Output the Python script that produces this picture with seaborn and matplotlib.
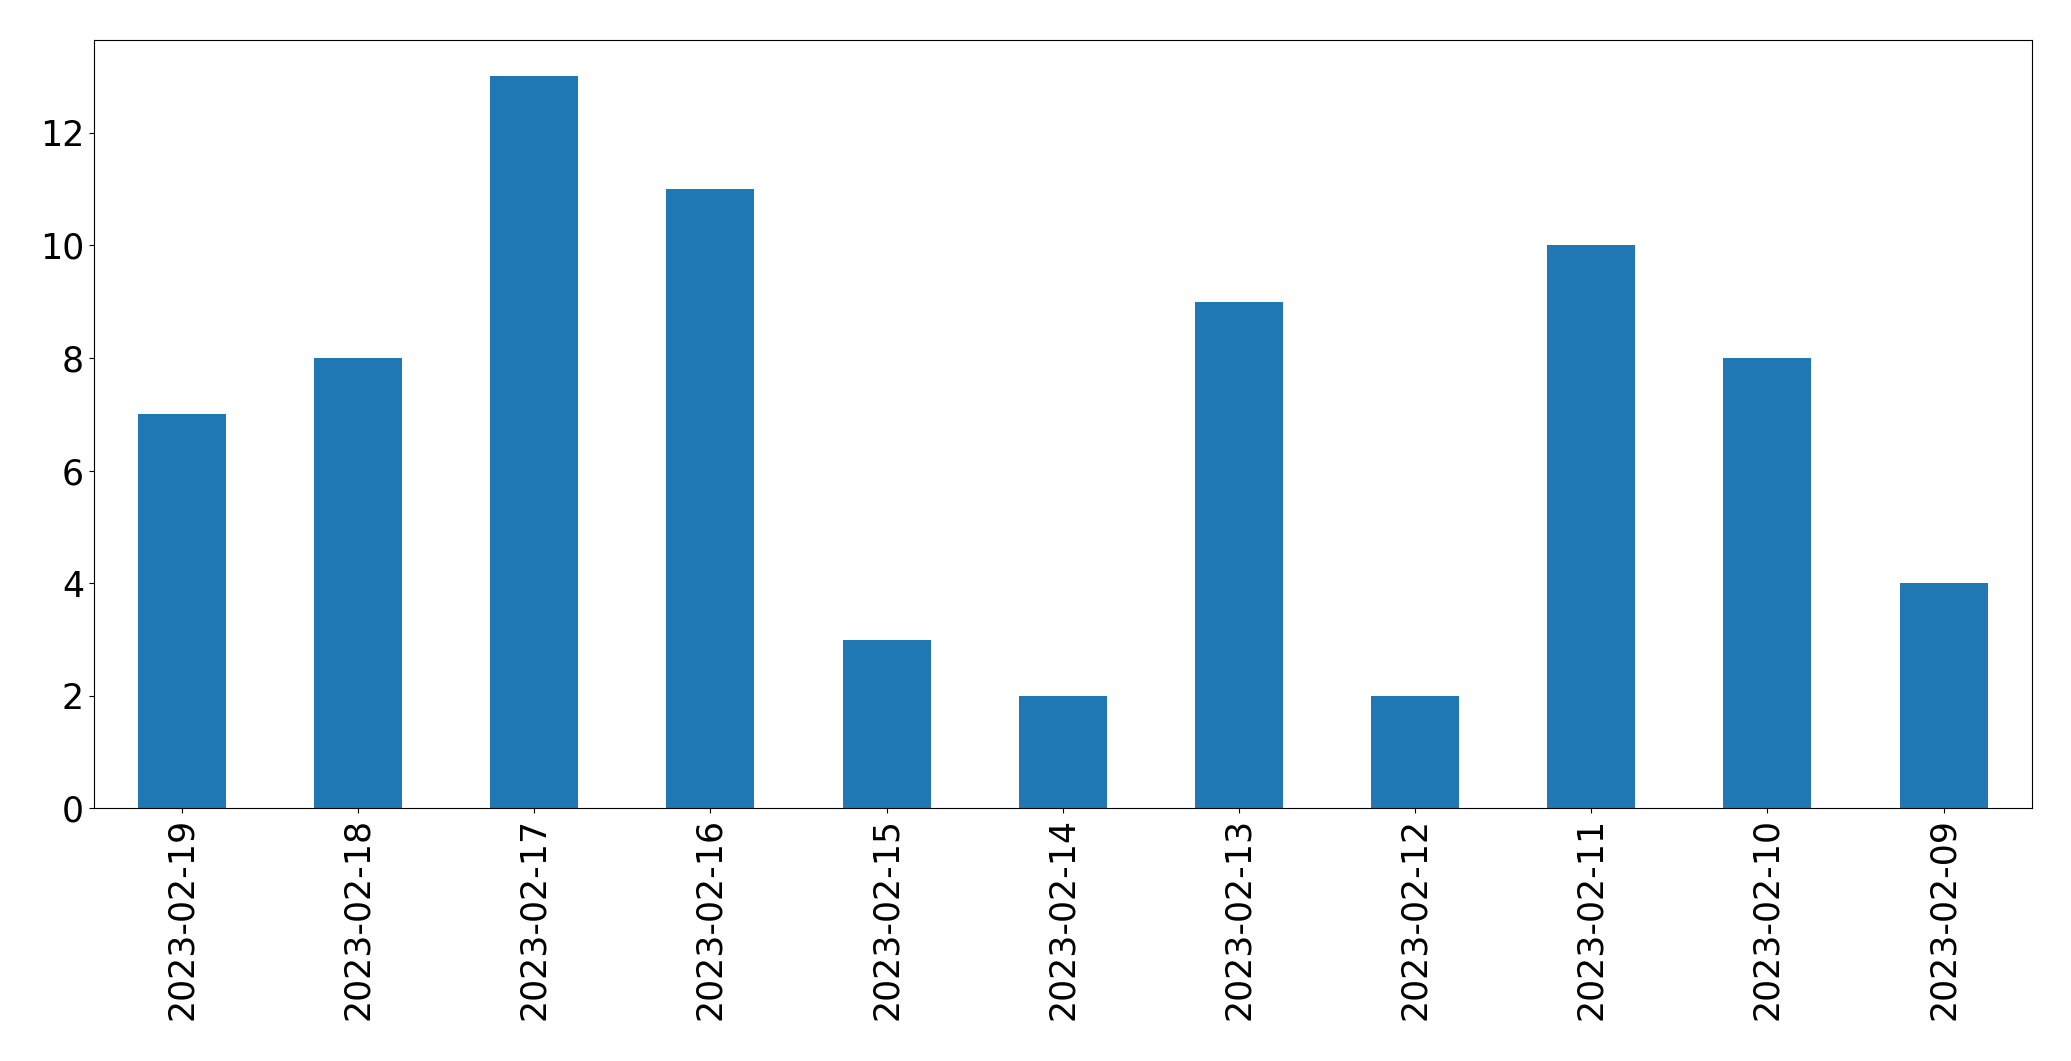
import matplotlib
matplotlib.use('Agg')
import matplotlib.pyplot as plt
import seaborn as sns
import pandas as pd

# Daily counts, in the order shown
dates = ['2023-02-19', '2023-02-18', '2023-02-17', '2023-02-16', '2023-02-15', '2023-02-14',
         '2023-02-13', '2023-02-12', '2023-02-11', '2023-02-10', '2023-02-09']
counts = [7, 8, 13, 11, 3, 2, 9, 2, 10, 8, 4]

df = pd.DataFrame({'date': dates, 'count': counts})

fig, ax = plt.subplots(figsize=(20.71, 10.61), dpi=100)
sns.barplot(data=df, x='date', y='count', color='#1f77b4', saturation=1, width=0.5, ax=ax)

ax.set_xlabel('')
ax.set_ylabel('')
ax.set_xlim(-0.5, len(dates) - 0.5)
ax.tick_params(axis='both', labelsize=25)
plt.xticks(rotation=90)

plt.subplots_adjust(left=0.0453, right=0.981, top=0.9626, bottom=0.238)
plt.savefig('out.png')
